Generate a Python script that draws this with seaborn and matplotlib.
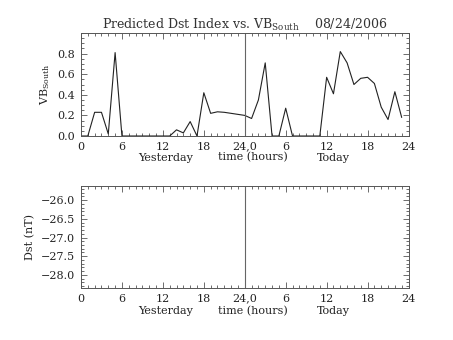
import matplotlib
matplotlib.use("Agg")
import matplotlib.pyplot as plt
from matplotlib.ticker import MultipleLocator
import numpy as np
import pandas as pd
import seaborn as sns

sns.set_theme(style="white")
plt.rcParams["font.family"] = ["DejaVu Serif"]
plt.rcParams["mathtext.default"] = "regular"

# Hourly VB_south values, yesterday 00h through today 23h
hours = list(range(48))
vb_south = [0.00, 0.00, 0.23, 0.23, 0.02, 0.81, 0.00, 0.00, 0.00, 0.00,
            0.00, 0.00, 0.00, 0.00, 0.06, 0.03, 0.14, 0.00, 0.42, 0.22,
            0.235, 0.23, 0.22, 0.21, 0.20, 0.17, 0.35, 0.71, 0.00, 0.00,
            0.27, 0.00, 0.00, 0.00, 0.00, 0.00, 0.57, 0.41, 0.82, 0.71,
            0.50, 0.56, 0.57, 0.51, 0.28, 0.16, 0.43, 0.18]

x_ticks = [0, 6, 12, 18, 24, 30, 36, 42, 48]
x_ticklabels = ["0", "6", "12", "18", "24,0", "6", "12", "18", "24"]
dst_ticks = [-26.0, -26.5, -27.0, -27.5, -28.0]

title_text = "Predicted Dst Index vs. VB$_{South}$    08/24/2006"

df = pd.DataFrame({"hour": hours, "vb": vb_south})

fig = plt.figure(figsize=(4.53, 3.40), dpi=100)
ax1 = fig.add_axes([0.1788, 0.600, 0.7230, 0.3029])
ax2 = fig.add_axes([0.1788, 0.153, 0.7230, 0.3000])

ink = "#222222"
frame = "#555555"

sns.lineplot(data=df, x="hour", y="vb", ax=ax1, color=ink, linewidth=0.8)


def style_axis(ax, ymajor, yminor, row_y):
    ax.set_xlim(0, 48)
    ax.xaxis.set_minor_locator(MultipleLocator(1))
    ax.set_xticks(x_ticks)
    ax.set_xticklabels(x_ticklabels)
    ax.yaxis.set_major_locator(MultipleLocator(ymajor))
    ax.yaxis.set_minor_locator(MultipleLocator(yminor))
    ax.tick_params(which="both", direction="in", top=True, right=True,
                   bottom=True, left=True, colors=frame, labelcolor=ink,
                   labelsize=8, width=0.6)
    ax.tick_params(which="major", length=4, pad=4)
    ax.tick_params(which="minor", length=2)
    for s in ax.spines.values():
        s.set_color(frame)
        s.set_linewidth(0.7)
    ax.axvline(24, color="#666666", linewidth=0.8)
    ax.set_xlabel("")
    ax.grid(False)
    tr = ax.get_xaxis_transform()
    for xpos, label in [(12.4, "Yesterday"), (25.2, "time (hours)"),
                        (37.0, "Today")]:
        ax.text(xpos, row_y, label, transform=tr, ha="center",
                va="baseline", fontsize=8, color=ink)


style_axis(ax1, 0.2, 0.05, -0.24)
ax1.set_ylim(0.0, 1.0)
ax1.set_yticks([0.0, 0.2, 0.4, 0.6, 0.8])
ax1.set_yticklabels(["0.0", "0.2", "0.4", "0.6", "0.8"])
ax1.set_ylabel("VB$_{South}$", fontsize=8, color=ink, labelpad=4)
ax1.set_title(title_text, fontsize=9, color="#333333", pad=3)

style_axis(ax2, 0.5, 0.1, -0.255)
ax2.set_ylim(-28.35, -25.62)
ax2.set_yticks(dst_ticks)
ax2.set_yticklabels([f"\u2212{abs(v):.1f}" for v in dst_ticks])
ax2.set_ylabel("Dst (nT)", fontsize=8, color=ink, labelpad=4)

fig.savefig("out.png", dpi=100, facecolor="white")
